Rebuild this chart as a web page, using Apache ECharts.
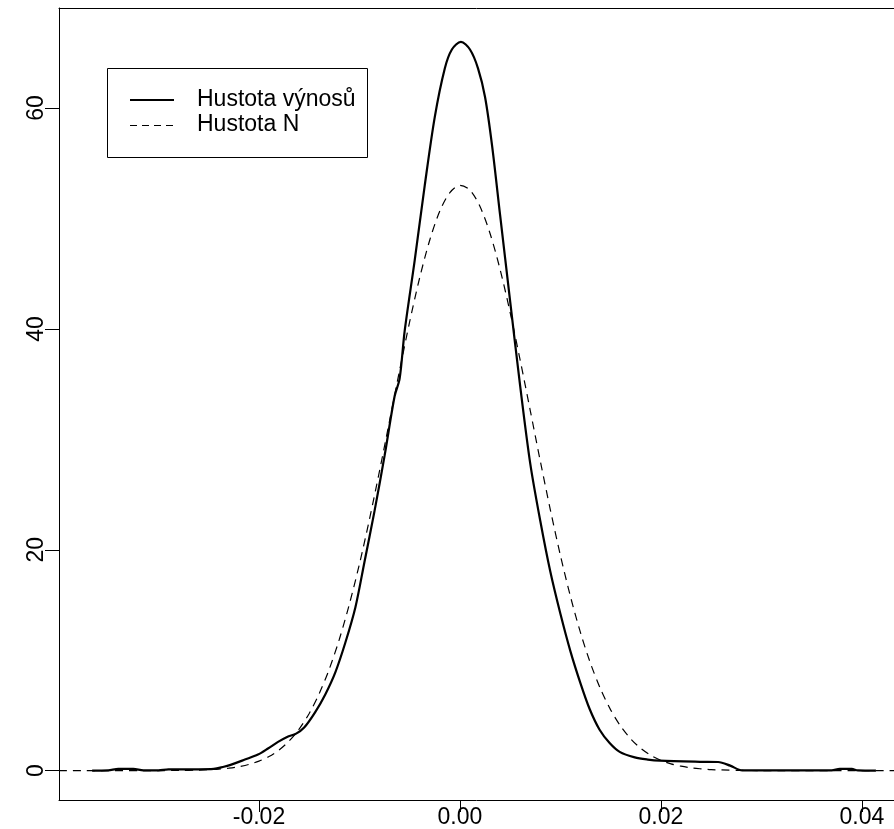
<!DOCTYPE html>
<html>
<head>
<meta charset="utf-8">
<script src="https://cdn.jsdelivr.net/npm/echarts@6/dist/echarts.min.js"></script>
<style>
html,body{margin:0;padding:0;background:#fff;}
#chart{width:894px;height:829px;}
</style>
</head>
<body>
<div id="chart"></div>
<script>
// Kernel density of returns (solid)
const densX = [-0.0366,-0.0350,-0.0340,-0.0325,-0.0315,-0.0300,-0.0290,-0.0260,-0.0245,-0.0235,-0.0229,-0.0214,-0.0201,-0.0191,-0.0181,-0.0172,-0.0163,-0.0155,-0.0144,-0.0134,-0.0124,-0.0114,-0.0104,-0.0095,-0.0085,-0.0075,-0.0065,-0.0060,-0.0055,-0.0045,-0.0035,-0.0025,-0.0015,-0.0008,0.0001,0.0010,0.0018,0.0025,0.0032,0.0040,0.0050,0.0060,0.0070,0.0080,0.0090,0.0100,0.0110,0.0120,0.0129,0.0139,0.0149,0.0159,0.0174,0.0187,0.0199,0.0239,0.0257,0.0269,0.0281,0.0370,0.0378,0.0390,0.0396,0.0414];
const densY = [0,0.02,0.15,0.15,0.02,0.03,0.12,0.12,0.15,0.35,0.5,1.0,1.45,2.0,2.6,3.05,3.35,3.9,5.3,6.9,8.9,11.6,14.8,18.9,23.5,28.5,33.9,35.5,39.8,46.2,53.0,59.2,63.6,65.3,66.0,65.3,63.6,61.0,56.6,50.3,42.5,34.8,27.8,22.6,18.0,14.2,10.8,7.9,5.6,3.7,2.5,1.7,1.2,1.0,0.9,0.8,0.78,0.45,0.02,0.02,0.15,0.15,0.02,0];

// Normal density (dashed)
const normX = [-0.0399,-0.030,-0.028,-0.026,-0.025,-0.024,-0.023,-0.022,-0.021,-0.020,-0.019,-0.018,-0.017,-0.016,-0.015,-0.014,-0.013,-0.012,-0.011,-0.010,-0.009,-0.008,-0.007,-0.006,-0.005,-0.004,-0.003,-0.002,-0.001,0.000,0.001,0.002,0.003,0.004,0.005,0.006,0.007,0.008,0.009,0.010,0.011,0.012,0.013,0.014,0.015,0.016,0.017,0.018,0.019,0.020,0.021,0.022,0.023,0.024,0.025,0.026,0.028,0.030,0.0432];
const normY = [0,0.005,0.017,0.05,0.085,0.14,0.23,0.36,0.56,0.86,1.28,1.87,2.68,3.76,5.18,6.98,9.20,11.90,15.08,18.71,22.77,27.14,31.69,36.26,40.65,44.65,48.05,50.67,52.35,53.0,52.57,51.08,48.64,45.38,41.48,37.15,32.61,28.03,23.62,19.49,15.77,12.49,9.70,7.38,5.50,4.02,2.87,2.01,1.38,0.93,0.61,0.40,0.25,0.16,0.09,0.06,0.02,0.005,0];

const xTicks = [-0.02, 0.00, 0.02, 0.04];
const yTicks = [0, 20, 40, 60];
const seriesNames = ['Hustota výnosů', 'Hustota N'];

const zip = (xs, ys) => xs.map((x, i) => [x, ys[i]]);
const FONT = 'Liberation Sans, Arial, Helvetica, sans-serif';
const X_MIN = -0.0399, X_MAX = 0.0432, Y_MIN = -2.66, Y_MAX = 69.06;

const chart = echarts.init(document.getElementById('chart'), null, {renderer: 'canvas'});
chart.setOption({
  animation: false,
  backgroundColor: '#ffffff',
  grid: {left: 59, top: 8, right: 0, bottom: 21, show: false},
  graphic: [
    {type: 'rect', z: 100, shape: {x: 107.5, y: 68.5, width: 260, height: 89},
      style: {fill: '#fff', stroke: '#000', lineWidth: 1}},
    {type: 'line', z: 101, shape: {x1: 130, y1: 100, x2: 174, y2: 100},
      style: {stroke: '#000', lineWidth: 2}},
    {type: 'line', z: 101, shape: {x1: 130, y1: 125.5, x2: 174, y2: 125.5},
      style: {stroke: '#000', lineWidth: 1.2, lineDash: [7, 5]}},
    {type: 'text', z: 101, x: 197, y: 100,
      style: {text: seriesNames[0], fontFamily: FONT, fontSize: 23, fill: '#000', verticalAlign: 'middle', align: 'left'}},
    {type: 'text', z: 101, x: 197, y: 125,
      style: {text: seriesNames[1], fontFamily: FONT, fontSize: 23, fill: '#000', verticalAlign: 'middle', align: 'left'}}
  ],
  xAxis: [{
    type: 'value', position: 'bottom',
    min: X_MIN, max: X_MAX,
    axisLine: {show: true, onZero: false, lineStyle: {color: '#000', width: 1}},
    axisTick: {show: true, inside: false, length: 12, lineStyle: {color: '#000'}, customValues: xTicks},
    axisLabel: {show: true, margin: 6, fontFamily: FONT, fontSize: 23, color: '#000',
      customValues: xTicks, formatter: v => v.toFixed(2)},
    splitLine: {show: false}
  }, {
    type: 'value', position: 'top',
    min: X_MIN, max: X_MAX,
    axisLine: {show: true, onZero: false, lineStyle: {color: '#000', width: 1}},
    axisTick: {show: false}, axisLabel: {show: false}, splitLine: {show: false}
  }],
  yAxis: {
    type: 'value',
    min: Y_MIN, max: Y_MAX,
    axisLine: {show: true, onZero: false, lineStyle: {color: '#000', width: 1}},
    axisTick: {show: true, inside: false, length: 14, lineStyle: {color: '#000'}, customValues: yTicks},
    axisLabel: {show: true, rotate: 90, margin: 11, fontFamily: FONT, fontSize: 23, color: '#000',
      customValues: yTicks},
    splitLine: {show: false}
  },
  series: [
    {
      name: seriesNames[0], type: 'line', data: zip(densX, densY),
      showSymbol: false, symbol: 'none', smooth: 0.3, clip: true,
      lineStyle: {color: '#000', width: 2.2, type: 'solid'},
      itemStyle: {color: '#000'}
    },
    {
      name: seriesNames[1], type: 'line', data: zip(normX, normY),
      showSymbol: false, symbol: 'none', smooth: 0.3, clip: true,
      lineStyle: {color: '#000', width: 1.2, type: [8, 6]},
      itemStyle: {color: '#000'}
    }
  ]
});
</script>
</body>
</html>
